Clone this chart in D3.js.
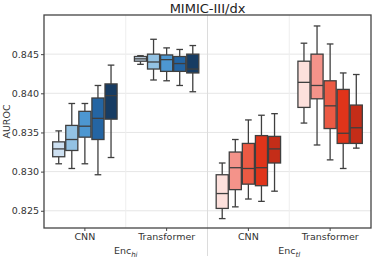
<!DOCTYPE html>
<html>
<head>
<meta charset="utf-8">
<script src="https://cdn.jsdelivr.net/npm/d3@7"></script>
<style>
  body { margin: 0; background: #fff; }
  svg text { font-family: "DejaVu Sans", sans-serif; fill: #333; }
</style>
</head>
<body>
<div id="chart"></div>
<script>
// chart values: each box is [whisker low, q1, median, q3, whisker high]
const CATEGORIES = ["hi-CNN", "hi-Transformer", "tl-CNN", "tl-Transformer"];
const CAT_LABELS = ["CNN", "Transformer", "CNN", "Transformer"];
const Y_TICKS = [0.825, 0.830, 0.835, 0.840, 0.845];

const HI_CNN = [
  [0.8310, 0.8319, 0.8329, 0.8338, 0.8352],
  [0.8304, 0.8327, 0.8341, 0.8359, 0.8387],
  [0.8310, 0.8344, 0.8358, 0.8377, 0.8387],
  [0.8296, 0.8341, 0.8368, 0.8394, 0.8410],
  [0.8318, 0.8367, 0.8397, 0.8412, 0.8436]
];
const HI_TRANS = [
  [0.8437, 0.8441, 0.8444, 0.8447, 0.8448],
  [0.8417, 0.8431, 0.8440, 0.8450, 0.8469],
  [0.8416, 0.8428, 0.8443, 0.8449, 0.8458],
  [0.8410, 0.8428, 0.8438, 0.8447, 0.8456],
  [0.8402, 0.8426, 0.8431, 0.8450, 0.8461]
];
const TL_CNN = [
  [0.8240, 0.8253, 0.8272, 0.8296, 0.8311],
  [0.8255, 0.8277, 0.8305, 0.8325, 0.8341],
  [0.8265, 0.8284, 0.8304, 0.8336, 0.8366],
  [0.8262, 0.8282, 0.8305, 0.8346, 0.8372],
  [0.8275, 0.8311, 0.8329, 0.8345, 0.8374]
];
const TL_TRANS = [
  [0.8362, 0.8382, 0.8414, 0.8441, 0.8464],
  [0.8334, 0.8393, 0.8410, 0.8450, 0.8486],
  [0.8315, 0.8355, 0.8384, 0.8416, 0.8463],
  [0.8304, 0.8336, 0.8349, 0.8405, 0.8426],
  [0.8330, 0.8336, 0.8356, 0.8385, 0.8424]
];
const BOXES = [HI_CNN, HI_TRANS, TL_CNN, TL_TRANS];

const BLUES = ["#cde0f1", "#93c2e3", "#4d97d1", "#2465a3", "#173c63"];
const REDS = ["#fde0dc", "#f4938a", "#eb5a44", "#e0341a", "#c42d18"];
const PALETTES = [BLUES, BLUES, REDS, REDS];

const GROUP_LABELS = [["Enc", "hi"], ["Enc", "tl"]];

// frame
const FRAME_WIDTH = 374;
const FRAME_HEIGHT = 259;
const MARGINS = {left: 44, right: 3, top: 15, bottom: 31};
const VIS_WIDTH = FRAME_WIDTH - MARGINS.left - MARGINS.right;
const VIS_HEIGHT = FRAME_HEIGHT - MARGINS.top - MARGINS.bottom;

const FRAME = d3.select("#chart")
  .append("svg")
    .attr("width", FRAME_WIDTH)
    .attr("height", FRAME_HEIGHT);

const X_SCALE = d3.scaleBand()
  .domain(CATEGORIES)
  .range([0, VIS_WIDTH]);

const Y_SCALE = d3.scaleLinear()
  .domain([0.8228, 0.8500])
  .range([VIS_HEIGHT, 0]);

const HUE_SCALE = d3.scaleBand()
  .domain(d3.range(5))
  .range([0, X_SCALE.bandwidth() * 0.8]);

const PLOT = FRAME.append("g")
  .attr("transform", "translate(" + MARGINS.left + "," + MARGINS.top + ")");

// grid
PLOT.selectAll(".hgrid")
  .data(Y_TICKS)
  .enter()
  .append("line")
    .attr("x1", 0).attr("x2", VIS_WIDTH)
    .attr("y1", (d) => Y_SCALE(d)).attr("y2", (d) => Y_SCALE(d))
    .attr("stroke", "#e6e6e6").attr("stroke-width", 1);

PLOT.selectAll(".vgrid")
  .data([1, 3])
  .enter()
  .append("line")
    .attr("x1", (d) => X_SCALE(CATEGORIES[d])).attr("x2", (d) => X_SCALE(CATEGORIES[d]))
    .attr("y1", 0).attr("y2", VIS_HEIGHT)
    .attr("stroke", "#eeeeee").attr("stroke-width", 1);

// separator between the two encoders, runs below the axis
const SEP_X = X_SCALE(CATEGORIES[2]);
PLOT.append("line")
  .attr("x1", SEP_X).attr("x2", SEP_X)
  .attr("y1", 0).attr("y2", VIS_HEIGHT + 28)
  .attr("stroke", "#dcdcdc").attr("stroke-width", 1);

// boxes
const STROKE = "#3f3f3f";
BOXES.forEach((group, gi) => {
  const g = PLOT.append("g")
    .attr("transform", "translate(" + (X_SCALE(CATEGORIES[gi]) + X_SCALE.bandwidth() * 0.1) + ",0)");
  group.forEach((b, i) => {
    const w = HUE_SCALE.bandwidth() - 1;
    const x0 = HUE_SCALE(i) + 0.5;
    const cx = x0 + w / 2;
    const cap = w * 0.55;
    // whiskers
    g.append("line")
      .attr("x1", cx).attr("x2", cx)
      .attr("y1", Y_SCALE(b[0])).attr("y2", Y_SCALE(b[1]))
      .attr("stroke", STROKE).attr("stroke-width", 1.3);
    g.append("line")
      .attr("x1", cx).attr("x2", cx)
      .attr("y1", Y_SCALE(b[3])).attr("y2", Y_SCALE(b[4]))
      .attr("stroke", STROKE).attr("stroke-width", 1.3);
    [b[0], b[4]].forEach((v) => {
      g.append("line")
        .attr("x1", cx - cap / 2).attr("x2", cx + cap / 2)
        .attr("y1", Y_SCALE(v)).attr("y2", Y_SCALE(v))
        .attr("stroke", STROKE).attr("stroke-width", 1.3);
    });
    // box
    g.append("rect")
      .attr("x", x0)
      .attr("y", Y_SCALE(b[3]))
      .attr("width", w)
      .attr("height", Y_SCALE(b[1]) - Y_SCALE(b[3]))
      .attr("fill", PALETTES[gi][i])
      .attr("stroke", STROKE).attr("stroke-width", 1.3);
    // median
    g.append("line")
      .attr("x1", x0).attr("x2", x0 + w)
      .attr("y1", Y_SCALE(b[2])).attr("y2", Y_SCALE(b[2]))
      .attr("stroke", STROKE).attr("stroke-width", 1.3);
  });
});

// frame border
PLOT.append("rect")
  .attr("x", 0).attr("y", 0)
  .attr("width", VIS_WIDTH).attr("height", VIS_HEIGHT)
  .attr("fill", "none")
  .attr("stroke", "#444").attr("stroke-width", 1.3);

// axes
const Y_AXIS = PLOT.append("g")
  .call(d3.axisLeft(Y_SCALE).tickValues(Y_TICKS).tickFormat(d3.format(".3f")).tickSize(3).tickPadding(2));
Y_AXIS.select(".domain").remove();
Y_AXIS.selectAll("line").attr("stroke", "#444");
Y_AXIS.selectAll("text").attr("font-size", "9.5px").style("fill", "#333");

const X_AXIS = PLOT.append("g")
  .attr("transform", "translate(0," + VIS_HEIGHT + ")")
  .call(d3.axisBottom(X_SCALE).tickFormat((d, i) => CAT_LABELS[i]).tickSize(3).tickPadding(2));
X_AXIS.select(".domain").remove();
X_AXIS.selectAll("line").attr("stroke", "#444");
X_AXIS.selectAll("text").attr("font-size", "9.5px").style("fill", "#333");

// group labels
GROUP_LABELS.forEach((lab, i) => {
  const mid = (X_SCALE(CATEGORIES[i * 2]) + X_SCALE(CATEGORIES[i * 2 + 1]) + X_SCALE.bandwidth()) / 2;
  const t = PLOT.append("text")
    .attr("x", mid)
    .attr("y", VIS_HEIGHT + 26)
    .attr("text-anchor", "middle")
    .attr("font-size", "9.5px");
  t.append("tspan").text(lab[0]);
  t.append("tspan")
    .attr("dy", 2.5)
    .attr("font-size", "7px")
    .attr("font-style", "italic")
    .text(lab[1]);
});

// y label
FRAME.append("text")
  .attr("transform", "translate(10," + (MARGINS.top + VIS_HEIGHT / 2) + ") rotate(-90)")
  .attr("text-anchor", "middle")
  .attr("font-size", "9.5px")
  .text("AUROC");

// title
FRAME.append("text")
  .attr("x", MARGINS.left + VIS_WIDTH / 2)
  .attr("y", 13)
  .attr("text-anchor", "middle")
  .attr("font-size", "13px")
  .style("fill", "#222")
  .text("MIMIC-III/dx");
</script>
</body>
</html>
